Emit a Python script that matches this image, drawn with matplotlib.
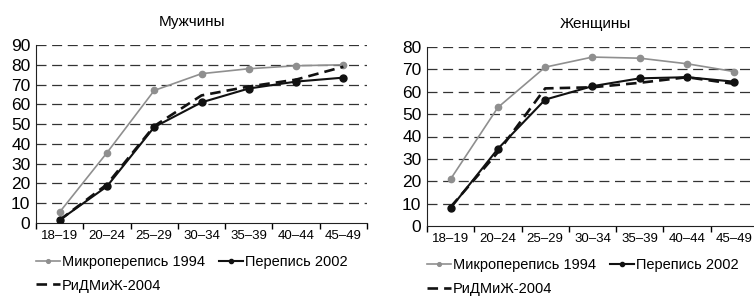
import matplotlib.pyplot as plt
import numpy as np

plt.rcParams['font.family'] = ['Liberation Sans', 'DejaVu Sans']

ages = ['18–19', '20–24', '25–29', '30–34', '35–39', '40–44', '45–49']

# Мужчины
men_1994 = [5.5, 35.5, 67, 75.5, 78, 79.5, 80]
men_2002 = [1.5, 18.5, 48.5, 61, 68, 71.5, 73.5]
men_2004 = [1.5, 19.5, 49, 64.5, 69, 72.5, 79]

# Женщины
women_1994 = [21, 53, 71, 75.5, 75, 72.5, 69]
women_2002 = [8, 34.5, 56.5, 62.5, 66, 66.5, 64.5]
women_2004 = [8.5, 33, 61.5, 62, 64, 66.5, 63.5]

labels = ['Микроперепись 1994', 'Перепись 2002', 'РиДМиЖ-2004']

fig = plt.figure(figsize=(7.54, 2.97), dpi=100)
# both panels are the same width; the right one runs past the image edge
ax1 = fig.add_axes([36 / 754, 1 - 223 / 297, 331 / 754, 178 / 297])
ax2 = fig.add_axes([427 / 754, 1 - 226 / 297, 331 / 754, 179 / 297])


def draw(ax, s1994, s2002, s2004, ymax, title, tx):
    x = np.arange(len(ages))
    l1, = ax.plot(x, s1994, color='#8f8f8f', lw=1.2, marker='o', ms=4.5, zorder=3)
    l2, = ax.plot(x, s2002, color='#111111', lw=1.5, marker='o', ms=5, zorder=4)
    l3, = ax.plot(x, s2004, color='#111111', lw=1.9, ls=(0, (4, 2.3)), zorder=4)
    for v in range(10, ymax + 1, 10):
        ax.axhline(v, color='#333333', lw=0.9, ls=(0, (8, 4.5)), zorder=1)
    ax.set_xlim(-0.5, len(ages) - 0.5)
    ax.set_ylim(0, ymax)
    ax.set_yticks(range(0, ymax + 1, 10))
    ax.set_xticks(x)
    ax.set_xticklabels(ages)
    ax.set_xticks(np.arange(-0.5, len(ages), 1), minor=True)
    ax.tick_params(axis='x', which='major', length=0, labelsize=9.5, pad=5)
    ax.tick_params(axis='x', which='minor', length=4, width=1, direction='out')
    ax.tick_params(axis='y', length=0, labelsize=12.5, pad=4)
    for s in ['top', 'right']:
        ax.spines[s].set_visible(False)
    ax.spines['left'].set_color('#222222')
    ax.spines['bottom'].set_color('#222222')
    ax.text(tx, 1.13, title, transform=ax.transAxes, ha='center', va='center',
            fontsize=11)
    ax.legend([l1, l3, l2], [labels[0], labels[2], labels[1]], ncol=2,
              loc='upper left', bbox_to_anchor=(0.0, -0.18), frameon=False,
              fontsize=10.5, handlelength=1.65, handletextpad=0.1,
              columnspacing=1.0, labelspacing=0.65, borderaxespad=0,
              borderpad=0, markerscale=0.6)


draw(ax1, men_1994, men_2002, men_2004, 90, 'Мужчины', 0.47)
draw(ax2, women_1994, women_2002, women_2004, 80, 'Женщины', 0.51)

fig.savefig('out.png', dpi=100)
